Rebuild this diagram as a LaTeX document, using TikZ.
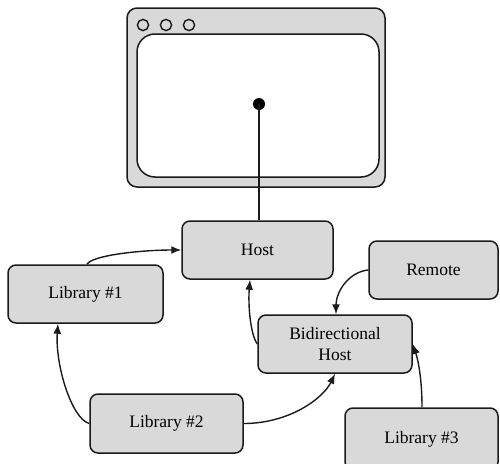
\documentclass[tikz,border=0pt]{standalone}
\usepackage{fontspec}
\setmainfont{Liberation Serif}
\usetikzlibrary{calc,arrows.meta}
\definecolor{boxfill}{HTML}{D9D9D9}
\definecolor{edge}{HTML}{1A1A1A}
\tikzset{
  module/.style={draw=edge, fill=boxfill, line width=1.5pt, rounded corners=8pt,
    inner sep=0pt, align=center, font=\fontsize{17.5}{21}\selectfont},
  link/.style={draw=edge, line width=1.4pt, -{Latex[length=10pt,width=8pt]}},
}
\begin{document}
\begin{tikzpicture}[x=1pt,y=-1pt]
  \useasboundingbox (0,0) rectangle (500,463);
  % browser window
  \draw[edge, fill=boxfill, line width=1.5pt, rounded corners=10pt] (127,8) rectangle (385,187);
  \draw[edge, fill=white, line width=1.5pt, rounded corners=18pt] (137,34) rectangle (379,177);
  \foreach \cx in {143,166,189}
    \draw[edge, line width=1.4pt] (\cx,25) circle (5.6pt);
  \node[circle, fill=black, inner sep=0pt, minimum size=12pt] (dot) at (259,104) {};

  % modules
  \node[module, minimum width=151pt, minimum height=58pt] (host) at (257.5,250) {Host};
  \node[module, minimum width=155pt, minimum height=58pt] (lib1) at (85.5,294) {Library \#1};
  \node[module, minimum width=129pt, minimum height=58pt] (remote) at (433.5,270) {Remote};
  \node[module, minimum width=154pt, minimum height=58pt] (bid) at (335,344) {Bidirectional\\Host};
  \node[module, minimum width=153pt, minimum height=59pt] (lib2) at (166.5,423.5) {Library \#2};
  \node[module, minimum width=153pt, minimum height=62pt] (lib3) at (421.5,439) {Library \#3};

  % connections
  \draw[edge, line width=1.4pt] (dot.center) -- ($(host.north)+(1.5,0)$);
  \draw[link] ($(lib1.north)+(1.5,0)$) .. controls +(5,-9) and +(-40,0) .. (host.west);
  \draw[link] (lib2.west) .. controls +(-18,-5) and +(-3,40) .. ($(lib1.south)+(-27.5,0)$);
  \draw[link] (lib2.east) .. controls +(45,0) and +(-12,25) .. (bid.south);
  \draw[link] (bid.west) .. controls +(-7,-10) and +(-2,25) .. ($(host.south)+(-7.5,0)$);
  \draw[link] (remote.west) .. controls +(-20,2) and +(0,-22) .. ($(bid.north)+(1,0)$);
  \draw[link] ($(lib3.north)+(0.5,0)$) .. controls +(0,-30) and +(5,15) .. (bid.east);
\end{tikzpicture}
\end{document}
